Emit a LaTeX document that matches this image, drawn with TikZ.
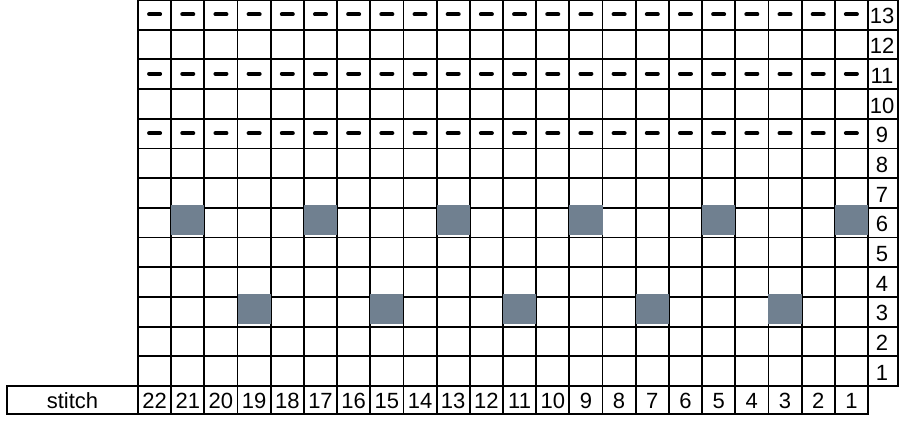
\documentclass[tikz,border=0pt]{standalone}
\usepackage{fontspec}
\setmainfont{Liberation Sans}
\usetikzlibrary{positioning}
\definecolor{knitgray}{RGB}{112,128,144}
\tikzset{font=\fontsize{11}{13}\selectfont}
\tikzset{gridline/.style={line width=0.9pt, line cap=rect},
  purlbar/.style={line width=2pt, line cap=round},
  bobble/.style={fill=knitgray},
  numlabel/.style={inner sep=0pt, anchor=center}}

\begin{document}
\begin{tikzpicture}[x=0.5pt,y=-0.5pt]
  \useasboundingbox (0,0) rectangle (906,427);
  \def\cw{33.18}
  \def\rh{29.7}
  % chart lines
  \foreach \i in {0,...,22}
    \draw[gridline] ({138+\i*\cw},0) -- ({138+\i*\cw},414);
  \foreach \j in {0,...,13}
    \draw[gridline] (138,{\j*\rh}) -- (898,{\j*\rh});
  \draw[gridline] (898,0) -- (898,386);
  \draw[gridline] (7,386) -- (138,386);
  \draw[gridline] (7,386) -- (7,414) -- (868,414);
  % purl rows
  \foreach \r in {9,11,13}
    \foreach \i in {0,...,21}
      \draw[purlbar] ({138+(\i+0.5)*\cw-5.5},{(13-\r+0.5)*\rh-0.5}) -- ({138+(\i+0.5)*\cw+5.5},{(13-\r+0.5)*\rh-0.5});
  % shaded stitches
  \foreach \c in {1,5,...,21}
    \fill[bobble] ({138+(22-\c)*\cw},{7*\rh-3}) rectangle ({138+(23-\c)*\cw},{8*\rh-3});
  \foreach \c in {3,7,...,19}
    \fill[bobble] ({138+(22-\c)*\cw},{10*\rh-3}) rectangle ({138+(23-\c)*\cw},{11*\rh-3});
  % row numbers
  \foreach \r in {1,...,13}
    \node[numlabel] (row\r) at (882,{(13-\r+0.5)*\rh+1.5}) {\r};
  % stitch numbers
  \node[numlabel] (stitch) at (72.5,400.5) {stitch};
  \foreach \c in {1,...,22}
    \node[numlabel] (st\c) at ({138+(22.5-\c)*\cw},401) {\c};
\end{tikzpicture}
\end{document}
